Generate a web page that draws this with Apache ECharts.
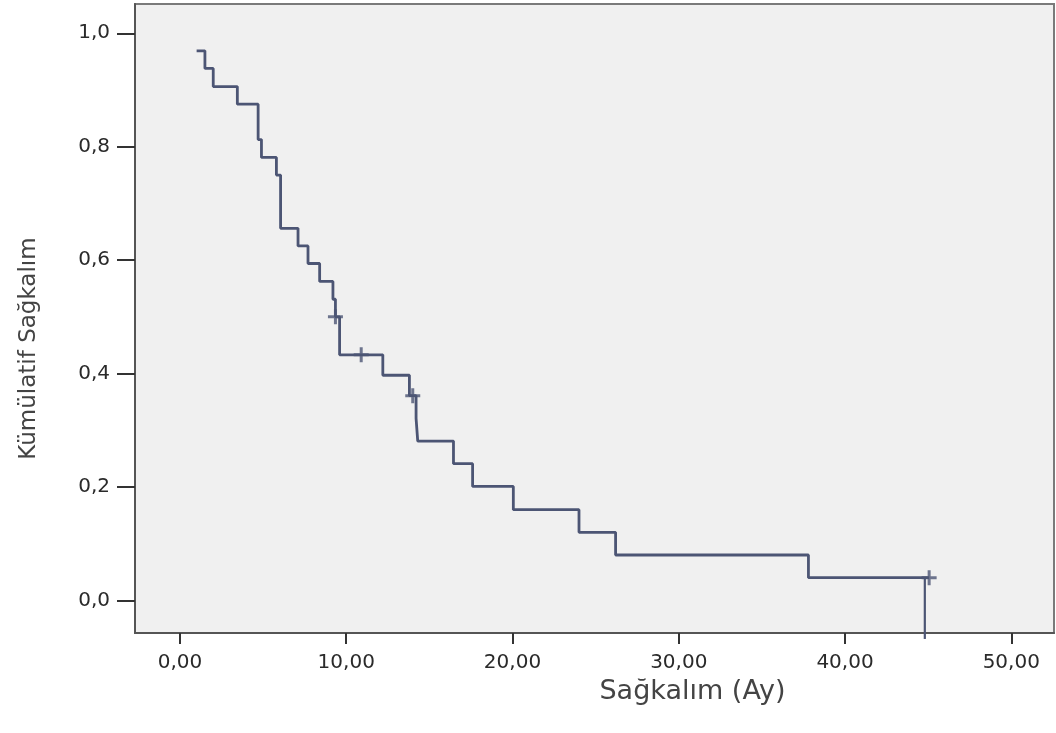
<!DOCTYPE html>
<html>
<head>
<meta charset="utf-8">
<script src="https://cdn.jsdelivr.net/npm/echarts@6/dist/echarts.min.js"></script>
<style>
  html, body { margin: 0; padding: 0; background: #fff; }
  #km_chart { width: 1056px; height: 733px; }
</style>
</head>
<body>
<div id="km_chart"></div>
<script>
// Kaplan-Meier egrisi: olay zamanlari (ay) ve o andaki kumulatif sagkalim
var eventTimes = [1.0, 1.5, 2.0, 3.45, 4.7, 4.9, 5.8, 6.05, 7.1, 7.7, 8.4, 9.2, 9.35, 9.6,
	12.2, 13.8, 14.2, 14.3, 16.45, 17.6, 20.05, 24.0, 26.2, 37.8, 45.06];
var survival = [0.969, 0.938, 0.906, 0.875, 0.8125, 0.781, 0.75, 0.656, 0.625, 0.594, 0.5625, 0.531, 0.5, 0.433,
	0.397, 0.361, 0.321, 0.281, 0.241, 0.201, 0.160, 0.120, 0.080, 0.040, 0.040];
// sansurlu gozlemler (+)
var censorTimes = [9.35, 10.9, 14.0, 45.06];
var censorSurv = [0.5, 0.433, 0.361, 0.040];
// sondaki dikey cizgi
var dropTimes = [44.8, 44.8];
var dropSurv = [0.04, -0.068];
// eksen isaretleri
var xTicks = [0, 10, 20, 30, 40, 50];
var yTicks = [0, 0.2, 0.4, 0.6, 0.8, 1.0];

var lineColor = '#4c5574';

var KMChart = echarts.init(document.getElementById('km_chart'), null, { renderer: 'canvas' });

function pairs(xs, ys) {
	return xs.map(function (x, i) { return [x, ys[i]]; });
}

var option = {
	animation: false,
	grid: {
		left: 135, right: 2, top: 4, bottom: 100,
		show: true,
		backgroundColor: '#f0f0f0',
		borderColor: '#7a7a7a',
		borderWidth: 2
	},
	xAxis: {
		type: 'value',
		min: -2.706,
		max: 52.57,
		name: 'Sağkalım (Ay)',
		nameLocation: 'middle',
		nameGap: 45,
		nameTextStyle: {
			fontFamily: 'DejaVu Sans', fontSize: 27, color: '#444',
			padding: [0, 0, 0, 196]
		},
		axisLine: { show: true, onZero: false, lineStyle: { color: '#555', width: 2 } },
		axisTick: { show: true, customValues: xTicks, length: 11, lineStyle: { color: '#333', width: 2 } },
		axisLabel: {
			customValues: xTicks,
			margin: 20,
			fontFamily: 'DejaVu Sans', fontSize: 20, color: '#2a2a2a',
			formatter: function (v) { return v.toFixed(2).replace('.', ','); }
		},
		splitLine: { show: false }
	},
	yAxis: {
		type: 'value',
		min: -0.0575,
		max: 1.0516,
		name: 'Kümülatif Sağkalım',
		nameLocation: 'middle',
		nameRotate: 90,
		nameGap: 94,
		nameTextStyle: {
			fontFamily: 'DejaVu Sans', fontSize: 23, color: '#444',
			padding: [0, 60, 0, 0]
		},
		axisLine: { show: true, onZero: false, lineStyle: { color: '#555', width: 2 } },
		axisTick: { show: true, customValues: yTicks, length: 18, lineStyle: { color: '#333', width: 2 } },
		axisLabel: {
			customValues: yTicks,
			margin: 25,
			fontFamily: 'DejaVu Sans', fontSize: 20, color: '#2a2a2a',
			formatter: function (v) { return v.toFixed(1).replace('.', ','); }
		},
		splitLine: { show: false }
	},
	series: [
		{
			type: 'line',
			step: 'end',
			data: pairs(eventTimes, survival),
			showSymbol: false,
			lineStyle: { color: lineColor, width: 2.8 },
			z: 3
		},
		{
			type: 'line',
			data: pairs(dropTimes, dropSurv),
			showSymbol: false,
			clip: false,
			lineStyle: { color: lineColor, width: 2.2 },
			z: 3
		},
		{
			type: 'scatter',
			data: pairs(censorTimes, censorSurv),
			symbol: 'path://M6,0h3v6h6v3h-6v6h-3v-6h-6v-3h6z',
			symbolSize: [15, 15],
			itemStyle: { color: lineColor },
			z: 4
		}
	]
};

KMChart.setOption(option);
</script>
</body>
</html>
